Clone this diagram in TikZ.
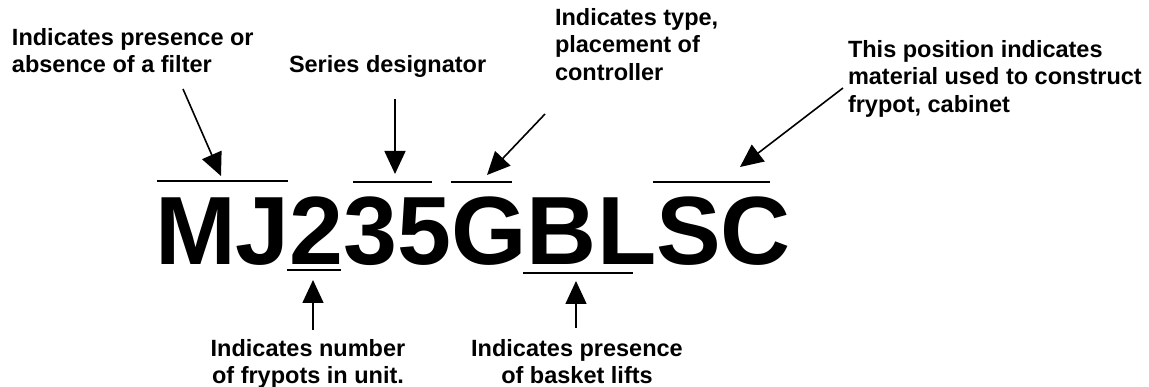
\documentclass[tikz,border=0pt]{standalone}
\usepackage{fontspec}
\setmainfont{Liberation Sans}
\usetikzlibrary{arrows.meta}
\tikzset{
  lbl/.style={inner sep=0pt, outer sep=0pt, font=\fontsize{23.5}{27.5}\selectfont\bfseries},
  codetext/.style={inner sep=0pt, outer sep=0pt, font=\fontsize{97}{97}\selectfont\bfseries},
  pointer/.style={line width=1.6pt, -{Triangle[length=23pt,width=21pt]}},
  mark line/.style={line width=1.8pt}
}
\begin{document}
\begin{tikzpicture}[x=1pt,y=-1pt]
\useasboundingbox (0,0) rectangle (1149,387);
% labels
\node[lbl, anchor=north west, align=left] (filter) at (12,28) {Indicates presence or\\absence of a filter};
\node[lbl, anchor=north west, align=left] (series) at (289,55) {Series designator};
\node[lbl, anchor=north west, align=left] (type) at (555,8) {Indicates type,\\placement of\\controller};
\node[lbl, anchor=north west, align=left] (material) at (848,40) {This position indicates\\material used to construct\\frypot, cabinet};
\node[lbl, anchor=north, align=center] (frypots) at (308,339) {Indicates number\\of frypots in unit.};
\node[lbl, anchor=north, align=center] (basket) at (577,339) {Indicates presence\\of basket lifts};
% code
\node[codetext, anchor=base west] (code) at (155,265) {MJ235GBLSC};
% over/underlines
\coordinate (mjL) at (157,181); \coordinate (mjR) at (288,181);
\coordinate (tfL) at (353,182); \coordinate (tfR) at (432,182);
\coordinate (gL) at (451,182);  \coordinate (gR) at (512,182);
\coordinate (scL) at (653,182); \coordinate (scR) at (770,182);
\coordinate (twL) at (287,270); \coordinate (twR) at (341,270);
\coordinate (blL) at (523,273); \coordinate (blR) at (633,273);
\draw[mark line] (mjL) -- (mjR);
\draw[mark line] (tfL) -- (tfR);
\draw[mark line] (gL) -- (gR);
\draw[mark line] (scL) -- (scR);
\draw[mark line] (twL) -- (twR);
\draw[mark line] (blL) -- (blR);
% arrows
\coordinate (filterS) at (183,89);  \coordinate (filterT) at (221,176);
\coordinate (seriesS) at (395,99);  \coordinate (seriesT) at (395,174);
\coordinate (typeS) at (545,114);   \coordinate (typeT) at (487,175);
\coordinate (matS) at (843,88);     \coordinate (matT) at (740,167);
\coordinate (fryS) at (313,330);    \coordinate (fryT) at (313,280);
\coordinate (basS) at (576,328);    \coordinate (basT) at (576,281);
\draw[pointer] (filterS) -- (filterT);
\draw[pointer] (seriesS) -- (seriesT);
\draw[pointer] (typeS) -- (typeT);
\draw[pointer] (matS) -- (matT);
\draw[pointer] (fryS) -- (fryT);
\draw[pointer] (basS) -- (basT);
\end{tikzpicture}
\end{document}
